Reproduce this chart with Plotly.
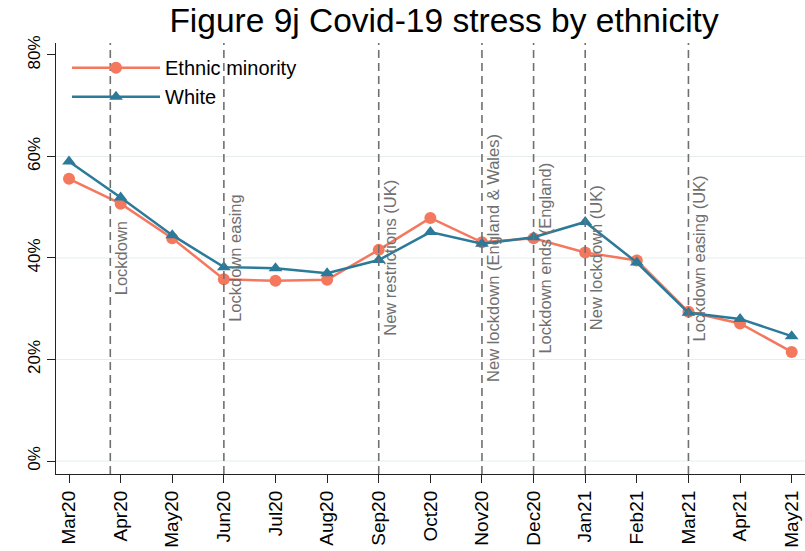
import plotly.graph_objects as go

months = ["Mar20", "Apr20", "May20", "Jun20", "Jul20", "Aug20", "Sep20", "Oct20",
          "Nov20", "Dec20", "Jan21", "Feb21", "Mar21", "Apr21", "May21"]
ethnic_minority = [55.6, 50.7, 43.9, 35.8, 35.5, 35.7, 41.6, 47.9,
                   43.1, 43.9, 41.1, 39.5, 29.4, 27.1, 21.5]
white = [59.0, 51.9, 44.5, 38.2, 38.0, 37.0, 39.6, 45.1,
         42.8, 44.1, 47.1, 39.1, 29.2, 28.0, 24.6]

# event markers: position in months since Mar20, label
event_pos = [0.8, 3, 6, 8, 9, 10, 12]
event_labels = ["Lockdown", "Lockdown easing", "New restrictions (UK)",
                "New lockdown (England & Wales)", "Lockdown ends (England)",
                "New lockdown (UK)", "Lockdown easing (UK)"]

y_ticks = [0, 20, 40, 60, 80]
y_ticktext = ["0%", "20%", "40%", "60%", "80%"]
grid_vals = [0, 20, 40, 60]

FONT = "Liberation Sans, Arial, sans-serif"
ORANGE = "#F4785E"
BLUE = "#2C7A99"
GRAY = "#707070"

x_idx = list(range(len(months)))

fig = go.Figure()
fig.add_trace(go.Scatter(x=x_idx, y=ethnic_minority, name="Ethnic minority",
                         mode="lines+markers",
                         line=dict(color=ORANGE, width=2.5),
                         marker=dict(symbol="circle", size=12, color=ORANGE)))
fig.add_trace(go.Scatter(x=x_idx, y=white, name="White",
                         mode="lines+markers",
                         line=dict(color=BLUE, width=2.5),
                         marker=dict(symbol="triangle-up", size=12, color=BLUE)))

shapes = []
for g in grid_vals:
    shapes.append(dict(type="line", xref="paper", yref="y", x0=0, x1=1, y0=g, y1=g,
                       line=dict(color="#E4EEEE", width=1.2), layer="below"))
for p in event_pos:
    shapes.append(dict(type="line", xref="x", yref="paper", x0=p, x1=p, y0=0, y1=1,
                       line=dict(color=GRAY, width=1.6, dash="8px,5px"), layer="above"))

annotations = []
for p, lab in zip(event_pos, event_labels):
    annotations.append(dict(x=p, y=40, xref="x", yref="y", text=lab, showarrow=False,
                            textangle=-90, xanchor="left", yanchor="middle",
                            font=dict(family=FONT, size=16.5, color=GRAY)))

fig.update_layout(
    width=805, height=551,
    margin=dict(l=56, r=0, t=43, b=77),
    paper_bgcolor="white", plot_bgcolor="white",
    font=dict(family=FONT, color="black"),
    title=dict(text="Figure 9j Covid-19 stress by ethnicity", x=0.5516, xanchor="center",
               y=0.963, yanchor="middle", xref="container", yref="container",
               font=dict(family=FONT, size=33.5, color="black")),
    showlegend=True,
    legend=dict(x=0.0147, y=0.988, xanchor="left", yanchor="top",
                bgcolor="rgba(0,0,0,0)", borderwidth=0, itemwidth=88,
                font=dict(family=FONT, size=20, color="black")),
    shapes=shapes,
    annotations=annotations,
    xaxis=dict(range=[-0.252, 14.258], tickmode="array", tickvals=x_idx, ticktext=months,
               tickangle=-90, ticks="outside", ticklen=8, tickcolor="#222222", tickwidth=1.3,
               showline=True, linecolor="#222222", linewidth=1.3, showgrid=False,
               zeroline=False, tickfont=dict(family=FONT, size=19, color="black")),
    yaxis=dict(range=[-2.56, 82.36], tickmode="array", tickvals=y_ticks, ticktext=y_ticktext,
               tickangle=-90, ticks="outside", ticklen=8, tickcolor="#222222", tickwidth=1.3,
               showline=True, linecolor="#222222", linewidth=1.3, showgrid=False,
               zeroline=False, tickfont=dict(family=FONT, size=17, color="black")),
)

fig.write_html("out.html", config={"displayModeBar": False},
               post_script="document.body.style.margin='0';document.body.style.overflow='hidden';")
